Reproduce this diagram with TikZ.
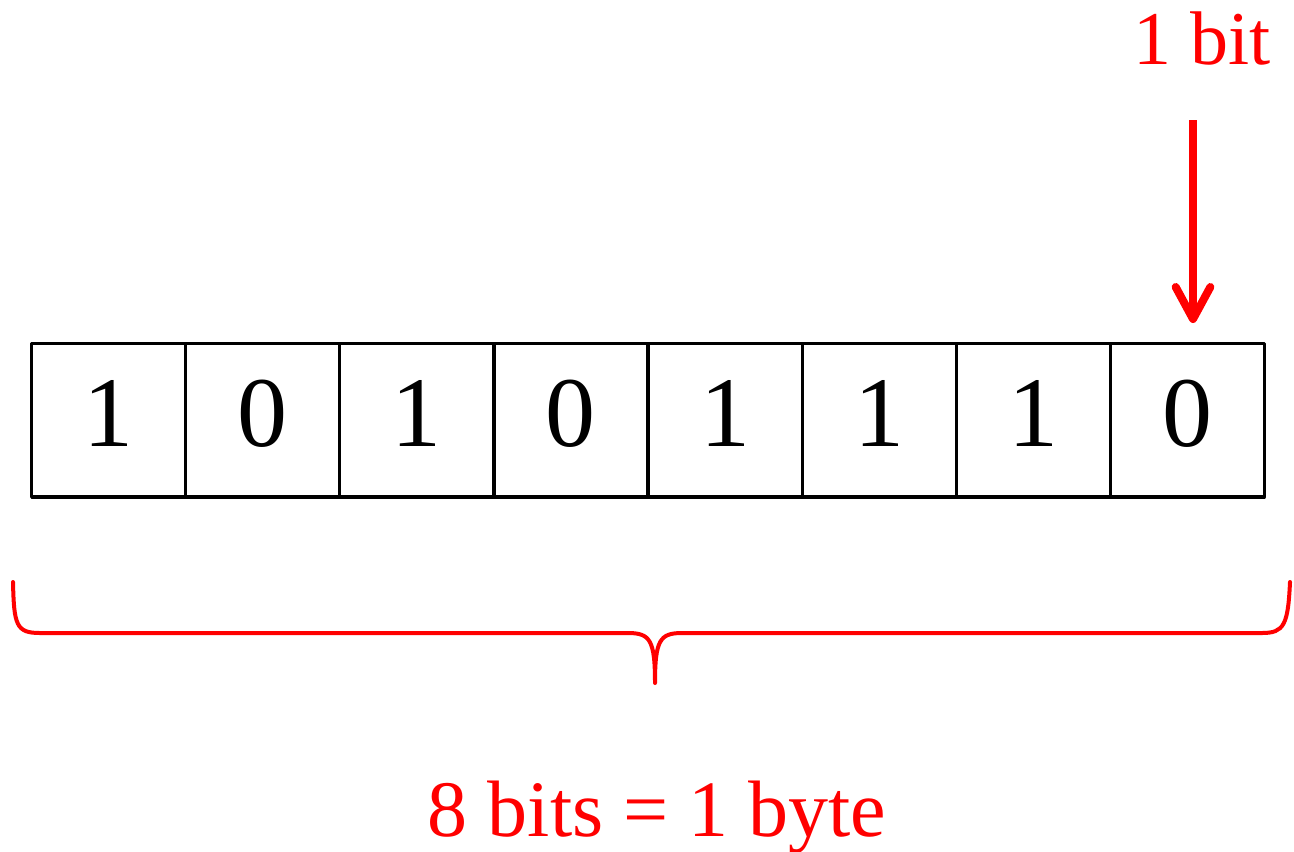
\documentclass[tikz,border=0pt]{standalone}
\usepackage{fontspec}
\setmainfont{Liberation Serif}
\usetikzlibrary{arrows.meta}
\definecolor{bitred}{RGB}{255,0,0}
\tikzset{
  cell/.style={draw=black, line width=2.4pt, minimum width=115.6pt, minimum height=115pt, inner sep=0pt, anchor=north west, line join=round},
  digit/.style={font=\fontsize{75}{75}\selectfont, inner sep=0pt},
  redtext/.style={text=bitred, inner sep=0pt},
  redline/.style={draw=bitred, line width=3pt, line cap=round, line join=round}
}
\begin{document}
\begin{tikzpicture}[x=0.75pt,y=-0.75pt]
\useasboundingbox (0,0) rectangle (1294,851);
\foreach \d [count=\i from 0] in {1,0,1,0,1,1,1,0} {
  \node[cell] (c\i) at ({30+154.1*\i},342) {};
  \node[digit] (d\i) at ([yshift=5pt]c\i.center) {\d};
}
\node[redtext, font=\fontsize{57}{57}\selectfont, anchor=base] (onebit) at (1202,64) {1 bit};
\coordinate (arrstart) at (1193,120);
\coordinate (arrend) at (1193,323);
\draw[draw=bitred, line width=6pt, -{Straight Barb[length=24pt, width=26pt, line cap=round, line join=round]}] (arrstart) -- (arrend);
\node[redtext, font=\fontsize{60}{60}\selectfont, anchor=base] (byte) at (657,836) {8 bits = 1 byte};
\draw[redline] (13,582) .. controls (14,625) and (16,633) .. (40,633)
  -- (628,633) .. controls (650,633) and (655,640) .. (655,683)
  .. controls (655,640) and (660,633) .. (682,633)
  -- (1262,633) .. controls (1284,633) and (1288,625) .. (1290,582);
\end{tikzpicture}
\end{document}
